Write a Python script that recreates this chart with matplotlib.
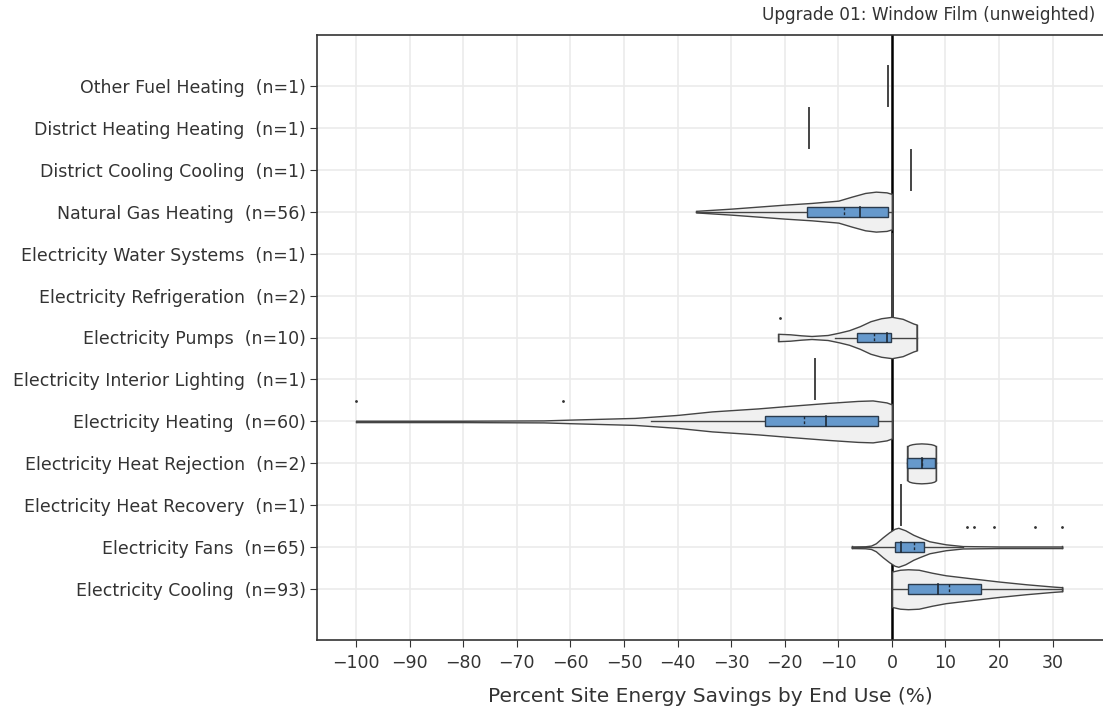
import numpy as np
import matplotlib
matplotlib.use("Agg")
import matplotlib.pyplot as plt

# categories, top to bottom
names = ["Other Fuel Heating", "District Heating Heating", "District Cooling Cooling",
         "Natural Gas Heating", "Electricity Water Systems", "Electricity Refrigeration",
         "Electricity Pumps", "Electricity Interior Lighting", "Electricity Heating",
         "Electricity Heat Rejection", "Electricity Heat Recovery", "Electricity Fans",
         "Electricity Cooling"]
counts = [1, 1, 1, 56, 1, 2, 10, 1, 60, 2, 1, 65, 93]

# single-value rows (row index, value)
single_rows = [0, 1, 2, 4, 5, 7, 10]
single_vals = [-0.75, -15.5, 3.5, 0.0, 0.0, -14.3, 1.7]

# violin outlines: x positions and half widths (px)
ng_x = [-36.5, -30, -25, -20, -15, -10, -7.5, -5, -3, -1, 0]
ng_w = [0.8, 3, 5, 7, 8.7, 11, 15, 18.7, 20, 19.3, 17.7]
pumps_x = [-21.2, -19, -17, -15, -12, -10, -8, -6, -4, -2, 0, 2, 4, 4.6]
pumps_w = [3.7, 3.2, 2.2, 1.5, 2.5, 4.7, 7.3, 11.3, 16.3, 19.3, 20.7, 18.7, 14, 13]
heat_x = [-100, -80, -65, -60, -48, -40, -33.6, -25, -19.3, -12, -6.4, -3.6, -1, 0]
heat_w = [0.7, 0.7, 1, 1.8, 3.5, 6.5, 10, 13, 15.5, 18.5, 20.5, 21, 19, 17]
rej_x = [2.9, 3.2, 3.8, 4.5, 5.5, 6.5, 7.3, 7.9, 8.2]
rej_w = [17.0, 18.3, 19.2, 19.7, 20, 19.7, 19.2, 18.3, 17.0]
fans_x = [-7.5, -5, -3.9, -3, -1.7, -0.5, 0.5, 1.2, 2.5, 4, 5.1, 7, 10, 13.2, 20, 31.8]
fans_w = [0.8, 1, 1.7, 4, 10, 15, 18.5, 19.5, 17, 12.5, 10, 6, 3, 1.2, 0.8, 0.8]
cool_x = [0, 1.5, 3, 5, 7.5, 10, 15, 20, 25, 30, 31.8]
cool_w = [17.7, 19.5, 20, 19.5, 16.5, 14, 10.8, 7.7, 5, 2.7, 2]

violin_rows = [3, 6, 8, 9, 11, 12]
violin_x = [ng_x, pumps_x, heat_x, rej_x, fans_x, cool_x]
violin_w = [ng_w, pumps_w, heat_w, rej_w, fans_w, cool_w]

# box stats: q1, median, q3, mean, whisker low, whisker high
q1 = [-15.9, -6.5, -23.7, 2.9, 0.5, 3.0]
med = [-5.9, -1.0, -12.3, 5.6, 1.7, 8.6]
q3 = [-0.8, -0.25, -2.6, 8.0, 6.0, 16.7]
mean = [-9.0, -3.4, -16.4, 5.6, 4.2, 10.6]
wlo = [-36.5, -10.6, -45, 2.9, -7.5, 0]
whi = [0, 4.6, 0, 8.2, 13.2, 31.8]

# outlier points (row, value)
out_rows = [6, 8, 8, 11, 11, 11, 11, 11]
out_vals = [-20.9, -100, -61.4, 14.1, 15.3, 19.1, 26.8, 31.8]

px = 1 / 42.0  # one pixel in category units

fig = plt.figure(figsize=(11.03, 7.17), dpi=100)
ax = fig.add_axes([317 / 1103, 77 / 717, 786 / 1103, 605 / 717])

ax.set_xlim(-107.3, 39.4)
ax.set_ylim(12 + 1.21, -1.21)
ax.set_xticks(np.arange(-100, 31, 10))
ax.set_yticks(range(len(names)))
ax.set_yticklabels([f"{n}  (n={c})" for n, c in zip(names, counts)])
ax.grid(True, color="#ebebeb", linewidth=1.2)
ax.set_axisbelow(True)
ax.axvline(0, color="black", linewidth=1.8, zorder=1.5)

for r, v in zip(single_rows, single_vals):
    ax.plot([v, v], [r - 20 * px, r + 20 * px], color="#444444", linewidth=1.4, zorder=3)

for i, r in enumerate(violin_rows):
    xs = np.array(violin_x[i])
    ws = np.array(violin_w[i]) * px
    ax.fill_between(xs, r - ws, r + ws, facecolor="#f0f0f0", edgecolor="#444444",
                    linewidth=1.0, zorder=3)
    ax.plot([xs[0], xs[0]], [r - ws[0], r + ws[0]], color="#444444", linewidth=1.0, zorder=3)
    ax.plot([xs[-1], xs[-1]], [r - ws[-1], r + ws[-1]], color="#444444", linewidth=1.0, zorder=3)
    ax.plot([wlo[i], whi[i]], [r, r], color="#444444", linewidth=1.0, zorder=4)
    bh = 5 * px
    ax.add_patch(plt.Rectangle((q1[i], r - bh), q3[i] - q1[i], 2 * bh, facecolor="#6699cc",
                               edgecolor="#2a3a4c", linewidth=1.0, zorder=5))
    ax.plot([med[i], med[i]], [r - bh, r + bh], color="#1f2a36", linewidth=1.2, zorder=6)
    ax.plot([mean[i], mean[i]], [r - bh, r + bh], color="#1f2a36", linewidth=1.0,
            linestyle=(0, (2, 1.5)), zorder=6)

ax.scatter(out_vals, np.array(out_rows) - 20 * px, s=1, color="#333333", zorder=6)

for s in ["left", "bottom", "top"]:
    ax.spines[s].set_color("#333333")
    ax.spines[s].set_linewidth(1.2)
ax.spines["right"].set_visible(False)
ax.tick_params(axis="both", length=5, color="#333333", labelcolor="#333333", labelsize=12.5)
ax.tick_params(axis="y", pad=3)
ax.tick_params(axis="x", pad=5)

ax.set_xlabel("Percent Site Energy Savings by End Use (%)", fontsize=14.5, color="#333333",
              labelpad=11)
fig.text(1095 / 1103, 1 - 15 / 717, "Upgrade 01: Window Film (unweighted)", ha="right",
         va="center", fontsize=12.2, color="#333333")

fig.savefig("out.png", dpi=100)
